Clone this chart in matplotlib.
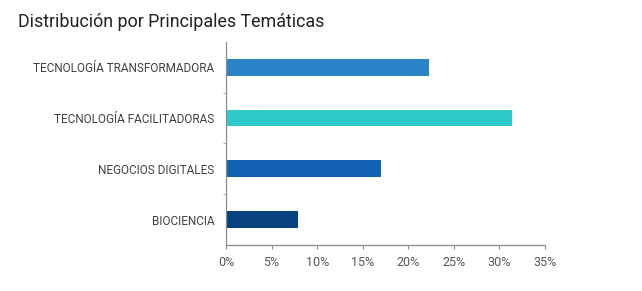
import matplotlib.pyplot as plt
import matplotlib
from matplotlib.ticker import FuncFormatter

matplotlib.rcParams['font.family'] = ['Roboto', 'DejaVu Sans']

categorias = ['BIOCIENCIA', 'NEGOCIOS DIGITALES', 'TECNOLOGÍA FACILITADORAS', 'TECNOLOGÍA TRANSFORMADORA']
porcentajes = [7.9, 17.0, 31.4, 22.3]
colores = ['#08427f', '#1462b3', '#2fcbcc', '#2b84c8']
xticks = [0, 5, 10, 15, 20, 25, 30, 35]

fig = plt.figure(figsize=(6.42, 2.91), dpi=100)
ax = fig.add_axes([0.352, 0.158, 0.497, 0.698])

y = range(len(categorias))
ax.barh(y, porcentajes, height=0.33, color=colores)

ax.set_xlim(0, 35)
ax.set_ylim(-0.5, 3.5)
ax.set_xticks(xticks)
ax.xaxis.set_major_formatter(FuncFormatter(lambda v, p: f'{v:.0f}%'))
ax.set_yticks(list(y))
ax.set_yticklabels(categorias)
ax.set_yticks([0.5, 1.5, 2.5], minor=True)

for s in ['top', 'right']:
    ax.spines[s].set_visible(False)
for s in ['left', 'bottom']:
    ax.spines[s].set_color('#8c8c8c')
    ax.spines[s].set_linewidth(0.9)

ax.tick_params(axis='y', which='major', length=0, pad=8.5, labelsize=8.5, labelcolor='#404040')
ax.tick_params(axis='y', which='minor', length=2.5, color='#a0a0a0')
ax.tick_params(axis='x', length=3, color='#8c8c8c', pad=5, labelsize=9, labelcolor='#555555')

fig.text(0.028, 0.925, 'Distribución por Principales Temáticas', fontsize=12.9,
         color='#222222', ha='left', va='center')

plt.savefig('out.png', dpi=100)
